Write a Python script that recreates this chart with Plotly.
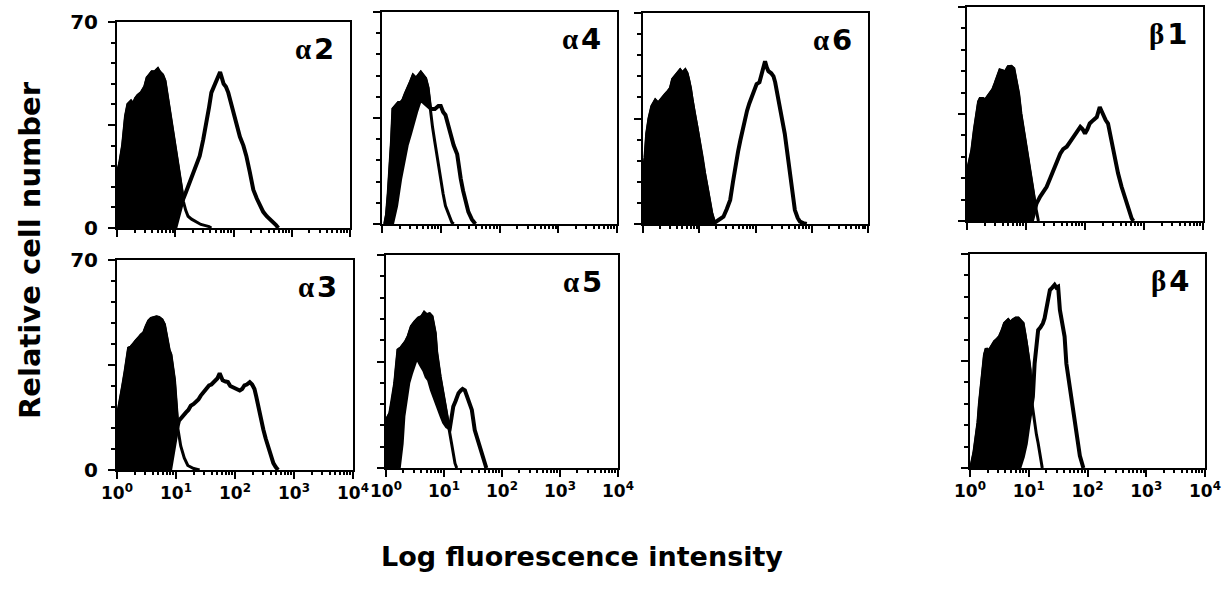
import plotly.graph_objects as go

W, H = 1223, 594

# ---------------- data (log10 fluorescence channel, relative cell number) ----------------
decade_values = [1, 10, 100, 1000, 10000]
decade_labels = ["10<sup>0</sup>", "10<sup>1</sup>", "10<sup>2</sup>", "10<sup>3</sup>", "10<sup>4</sup>"]
minor_multipliers = [2, 3, 4, 5, 6, 7, 8, 9]
y_tick_values = [0, 35, 70]
y_tick_labels = ["0", "", "70"]
y_minor_values = [7, 14, 21, 28, 42, 49, 56, 63]

panel_names = ["α2", "α4", "α6", "β1", "α3", "α5", "β4"]

# alpha 2
a2_ctrl_log = [0.00, 0.05, 0.10, 0.15, 0.19, 0.24, 0.28, 0.32, 0.36, 0.42, 0.48, 0.52, 0.56, 0.60, 0.65, 0.70, 0.73, 0.78, 0.82, 0.86, 0.90, 0.94, 0.98, 1.02, 1.06, 1.10, 1.14, 1.18, 1.22, 1.28, 1.36, 1.44, 1.52, 1.58, 1.62]
a2_ctrl_n = [18, 22, 28, 38, 42, 43, 42, 44, 45, 46, 48, 51, 52, 53, 53, 54, 53, 52, 50, 45, 40, 35, 29, 25, 20, 14, 9, 6, 4, 3, 2, 1.2, 0.8, 0.5, 0]
a2_stain_log = [1.00, 1.06, 1.12, 1.18, 1.24, 1.30, 1.36, 1.42, 1.48, 1.54, 1.58, 1.62, 1.66, 1.71, 1.74, 1.77, 1.80, 1.83, 1.87, 1.91, 1.95, 1.99, 2.05, 2.11, 2.17, 2.22, 2.28, 2.34, 2.40, 2.45, 2.51, 2.57, 2.63, 2.68, 2.73, 2.77]
a2_stain_n = [0, 5, 9, 12, 15, 18, 21, 24.5, 30, 36, 41, 46, 48, 50, 52, 53, 51, 49, 48, 46, 43, 40, 36, 31, 28, 24.5, 19, 13, 10, 7.6, 5.5, 4, 3, 2, 1, 0]

# alpha 4
a4_ctrl_log = [0.05, 0.08, 0.11, 0.14, 0.165, 0.19, 0.23, 0.28, 0.32, 0.36, 0.40, 0.45, 0.49, 0.53, 0.58, 0.62, 0.66, 0.70, 0.74, 0.78, 0.82, 0.86, 0.90, 0.93, 0.96, 1.00, 1.04, 1.08, 1.13, 1.19, 1.22]
a4_ctrl_n = [0, 3, 10, 18, 27, 38, 39, 40, 40, 41, 43, 45, 47, 49, 48, 49, 50, 49, 48, 45, 38, 32, 27, 23, 19, 14, 10, 6, 3.5, 0.5, 0]
a4_stain_log = [0.17, 0.24, 0.31, 0.37, 0.42, 0.48, 0.53, 0.58, 0.63, 0.67, 0.72, 0.78, 0.84, 0.90, 0.96, 1.00, 1.04, 1.08, 1.12, 1.16, 1.22, 1.28, 1.31, 1.34, 1.38, 1.42, 1.47, 1.53, 1.59]
a4_stain_n = [0, 6, 15, 21, 26, 30, 34, 37, 40, 41, 40, 39, 38, 38, 39, 39, 37, 36, 33, 30, 26, 23, 18, 15, 11, 8, 4, 1.5, 0]

# alpha 6
a6_ctrl_log = [0.00, 0.04, 0.07, 0.11, 0.16, 0.22, 0.27, 0.31, 0.36, 0.40, 0.45, 0.49, 0.53, 0.57, 0.62, 0.66, 0.70, 0.75, 0.78, 0.81, 0.84, 0.87, 0.91, 0.96, 1.00, 1.05, 1.09, 1.14, 1.18, 1.22, 1.26, 1.28]
a6_ctrl_n = [16, 22, 30, 35, 39, 41, 40, 41, 42, 43, 44, 45, 48, 49, 50, 51, 50, 51, 50, 48, 45, 41, 37, 32, 27, 22, 17, 12, 7, 3.5, 1, 0]
a6_stain_log = [1.24, 1.30, 1.36, 1.43, 1.49, 1.55, 1.60, 1.64, 1.69, 1.73, 1.79, 1.85, 1.89, 1.93, 1.98, 2.02, 2.07, 2.11, 2.14, 2.17, 2.20, 2.23, 2.28, 2.32, 2.35, 2.38, 2.43, 2.47, 2.52, 2.56, 2.60, 2.64, 2.67, 2.70, 2.75, 2.79, 2.85, 2.91]
a6_stain_n = [0, 0.8, 1.5, 2.4, 5, 8, 14, 19, 24, 27.7, 33, 37.6, 40, 42, 44, 46.4, 47, 49.7, 52, 54, 52, 50.7, 50, 49, 47, 44, 40, 35, 30, 24.4, 18, 12.3, 8, 4.6, 2, 0.8, 0.3, 0]

# beta 1
b1_ctrl_log = [0.00, 0.04, 0.085, 0.13, 0.17, 0.20, 0.225, 0.27, 0.31, 0.35, 0.39, 0.44, 0.48, 0.52, 0.56, 0.61, 0.65, 0.70, 0.75, 0.79, 0.83, 0.87, 0.91, 0.96, 1.00, 1.04, 1.07, 1.10, 1.15, 1.18, 1.21]
b1_ctrl_n = [15.6, 19, 23, 30, 36, 39, 40, 40, 39.5, 40.5, 41.7, 43, 45, 47, 49.3, 49, 48.7, 50.4, 50.5, 49.8, 46, 41.7, 35, 28.6, 24, 19.9, 15, 11.2, 5.8, 3, 0]
b1_stain_log = [1.10, 1.15, 1.18, 1.24, 1.30, 1.35, 1.41, 1.46, 1.52, 1.58, 1.63, 1.69, 1.75, 1.80, 1.86, 1.92, 1.96, 2.00, 2.04, 2.08, 2.14, 2.20, 2.25, 2.28, 2.31, 2.35, 2.39, 2.42, 2.45, 2.48, 2.51, 2.56, 2.62, 2.66, 2.70, 2.75, 2.79, 2.82]
b1_stain_n = [0, 3, 5.8, 8, 9.5, 11.2, 14, 16.6, 19, 22, 23.5, 24.3, 26, 27.5, 29, 30.8, 30, 28.6, 30, 31.9, 33, 34, 37.3, 36, 34, 33, 31.9, 29, 26.4, 23, 19.9, 15.6, 11.2, 8.5, 5.8, 3, 0.9, 0]

# alpha 3
a3_ctrl_log = [0.00, 0.03, 0.057, 0.10, 0.14, 0.17, 0.20, 0.24, 0.28, 0.32, 0.37, 0.41, 0.455, 0.50, 0.54, 0.58, 0.63, 0.67, 0.71, 0.76, 0.80, 0.83, 0.85, 0.88, 0.91, 0.94, 0.97, 1.00, 1.03, 1.08, 1.14, 1.20, 1.30, 1.40]
a3_ctrl_n = [17, 20, 23.7, 28, 32.7, 37, 40.6, 41, 41.8, 43, 44, 45, 45.7, 48, 49.7, 50.5, 50.8, 51, 50.8, 50, 48.5, 45, 42.9, 40, 38.4, 34, 30, 22, 14, 8, 4, 1.5, 0.5, 0]
a3_stain_log = [0.90, 0.94, 0.98, 1.02, 1.05, 1.11, 1.17, 1.21, 1.25, 1.30, 1.34, 1.38, 1.42, 1.47, 1.51, 1.56, 1.60, 1.65, 1.70, 1.74, 1.77, 1.79, 1.84, 1.88, 1.92, 1.96, 2.02, 2.08, 2.12, 2.16, 2.20, 2.25, 2.29, 2.33, 2.36, 2.39, 2.44, 2.48, 2.52, 2.56, 2.60, 2.65, 2.69, 2.73]
a3_stain_n = [0, 5, 10, 14, 16.4, 18, 19.2, 20, 21.4, 22, 22.6, 23.5, 24.8, 26, 27, 28.2, 28.5, 29.3, 30.5, 32.2, 31, 29.9, 29.5, 29.3, 28, 27.6, 27, 26.5, 27, 28.2, 28.5, 29.3, 28.5, 27, 24.5, 21.4, 17, 13.5, 10.5, 7.9, 5, 2.3, 1, 0]

# alpha 5
a5_ctrl_log = [0.00, 0.01, 0.07, 0.11, 0.155, 0.18, 0.21, 0.26, 0.30, 0.34, 0.385, 0.44, 0.50, 0.56, 0.62, 0.66, 0.70, 0.75, 0.79, 0.82, 0.845, 0.87, 0.90, 0.93, 0.96, 0.99, 1.02, 1.07, 1.13, 1.19, 1.22]
a5_ctrl_n = [12, 15.8, 18, 22, 27.9, 33, 38.8, 39.5, 40.5, 41.5, 43.2, 46.5, 48, 49.2, 49.8, 51, 50.3, 50.6, 49.8, 47, 44.3, 38, 33.3, 30, 26.7, 23, 20.2, 14.7, 8.1, 1.5, 0]
a5_stain_log = [0.22, 0.27, 0.30, 0.34, 0.385, 0.43, 0.47, 0.50, 0.53, 0.56, 0.60, 0.66, 0.70, 0.74, 0.79, 0.82, 0.87, 0.92, 0.96, 1.00, 1.05, 1.10, 1.13, 1.16, 1.20, 1.25, 1.29, 1.32, 1.36, 1.39, 1.44, 1.48, 1.53, 1.57, 1.62, 1.68, 1.73]
a5_stain_n = [0, 8, 17, 23, 28, 31, 34, 35, 36, 35.5, 34, 32, 30, 29, 25.7, 24, 21.3, 19, 16.9, 15, 13.6, 13, 16, 20.2, 22, 24.6, 25.5, 26, 25.5, 24, 21.5, 19.1, 12.5, 10, 7, 2.6, 0]

# beta 4
b4_ctrl_log = [0.00, 0.02, 0.07, 0.11, 0.14, 0.165, 0.19, 0.22, 0.25, 0.28, 0.31, 0.335, 0.38, 0.42, 0.46, 0.505, 0.55, 0.59, 0.65, 0.69, 0.73, 0.78, 0.82, 0.86, 0.90, 0.93, 0.96, 1.00, 1.02, 1.04, 1.07, 1.10, 1.13, 1.16, 1.21, 1.23]
b4_ctrl_n = [0, 0.4, 5, 10.2, 15, 21.2, 26, 32, 37, 39.1, 38, 38.6, 40, 41.3, 42, 43, 45, 47.3, 48.4, 47.5, 48.4, 49, 49, 48, 47.3, 44, 40.8, 35, 32, 23.3, 19, 14.6, 11, 8.1, 1.5, 0]
b4_stain_log = [0.82, 0.845, 0.90, 0.95, 0.99, 1.03, 1.07, 1.10, 1.13, 1.16, 1.20, 1.24, 1.27, 1.30, 1.33, 1.36, 1.40, 1.44, 1.47, 1.50, 1.53, 1.57, 1.61, 1.64, 1.67, 1.70, 1.75, 1.78, 1.81, 1.87, 1.93]
b4_stain_n = [0, 0.4, 3.7, 8, 13.5, 18, 23.3, 34.2, 40, 45.1, 46, 47.3, 49, 51.7, 54, 58.2, 59, 59.9, 59, 59.3, 51.7, 47, 43, 34.2, 30, 26.6, 19, 15, 10.2, 4, 0]

panel_data = {
    "α2": (a2_ctrl_log, a2_ctrl_n, a2_stain_log, a2_stain_n),
    "α4": (a4_ctrl_log, a4_ctrl_n, a4_stain_log, a4_stain_n),
    "α6": (a6_ctrl_log, a6_ctrl_n, a6_stain_log, a6_stain_n),
    "β1": (b1_ctrl_log, b1_ctrl_n, b1_stain_log, b1_stain_n),
    "α3": (a3_ctrl_log, a3_ctrl_n, a3_stain_log, a3_stain_n),
    "α5": (a5_ctrl_log, a5_ctrl_n, a5_stain_log, a5_stain_n),
    "β4": (b4_ctrl_log, b4_ctrl_n, b4_stain_log, b4_stain_n),
}

# ---------------- layout (pixel boxes: left, right, top, bottom) ----------------
panel_box = {
    "α2": (117, 350, 22, 228),
    "α4": (382, 617, 12, 224),
    "α6": (643, 868, 13, 224),
    "β1": (967, 1203, 7, 221),
    "α3": (117, 353, 260, 470),
    "α5": (386, 618, 255, 468),
    "β4": (970, 1205, 254, 468),
}
left_panels = {"α2", "α3"}
bottom_panels = {"α3", "α5", "β4"}

FONT = "DejaVu Sans"
minor_x = [d * m for d in decade_values[:-1] for m in minor_multipliers]

fig = go.Figure()
layout_axes = {}
annotations = []

for i, name in enumerate(panel_names):
    idx = "" if i == 0 else str(i + 1)
    xa, ya = "x" + idx, "y" + idx
    c_log, c_n, s_log, s_n = panel_data[name]
    cx = [10 ** v for v in c_log]
    sx = [10 ** v for v in s_log]
    # control: black filled
    fig.add_trace(go.Scatter(x=cx, y=c_n, mode="lines", fill="tozeroy", fillcolor="black",
                             line=dict(color="black", width=3.5), xaxis=xa, yaxis=ya, hoverinfo="skip"))
    # stained: white interior over control
    fig.add_trace(go.Scatter(x=sx, y=s_n, mode="lines", fill="tozeroy", fillcolor="white",
                             line=dict(color="black", width=0), xaxis=xa, yaxis=ya, hoverinfo="skip"))
    # control outline on top
    fig.add_trace(go.Scatter(x=cx, y=c_n, mode="lines", line=dict(color="black", width=3),
                             xaxis=xa, yaxis=ya, hoverinfo="skip"))
    # stained outline
    fig.add_trace(go.Scatter(x=sx, y=s_n, mode="lines", line=dict(color="black", width=4),
                             xaxis=xa, yaxis=ya, hoverinfo="skip"))

    l, r, t, b = panel_box[name]
    xkey = "xaxis" + idx
    ykey = "yaxis" + idx
    layout_axes[xkey] = dict(
        domain=[l / W, r / W], anchor=ya, type="log", range=[0, 4],
        automargin=False,
        showline=True, mirror=True, linecolor="black", linewidth=2,
        showgrid=False, zeroline=False,
        tickvals=decade_values, ticktext=decade_labels,
        showticklabels=name in bottom_panels,
        ticks="outside", ticklen=7, tickwidth=2, tickcolor="black",
        minor=dict(tickvals=minor_x, ticks="outside", ticklen=3, tickwidth=1.5, tickcolor="black"),
        tickfont=dict(family=FONT, size=17, color="black", weight="bold"),
        fixedrange=True,
    )
    layout_axes[ykey] = dict(
        domain=[1 - b / H, 1 - t / H], anchor=xa, range=[0, 70],
        automargin=False,
        showline=True, mirror=True, linecolor="black", linewidth=2,
        showgrid=False, zeroline=False,
        tickvals=y_tick_values, ticktext=y_tick_labels,
        showticklabels=name in left_panels,
        ticks="outside", ticklen=7, tickwidth=2, tickcolor="black",
        minor=dict(tickvals=y_minor_values, ticks="outside", ticklen=4, tickwidth=1.5, tickcolor="black"),
        tickfont=dict(family=FONT, size=20, color="black", weight="bold"),
        ticklabelstandoff=6,
        fixedrange=True,
    )
    greek, num = name[0], name[1:]
    annotations.append(dict(
        text="<span style='font-family:Liberation Serif'>" + greek + "</span>\u200a" + num,
        xref=xa + " domain", yref=ya + " domain", x=1, y=1,
        xanchor="right", yanchor="top", xshift=-14, yshift=-8, showarrow=False,
        font=dict(family=FONT, size=29, color="black", weight="bold"),
    ))

annotations.append(dict(
    text="Relative cell number", xref="paper", yref="paper",
    x=30 / W, y=1 - 250 / H, textangle=-90, showarrow=False,
    xanchor="center", yanchor="middle",
    font=dict(family=FONT, size=29, color="black", weight="bold"),
))
annotations.append(dict(
    text="Log fluorescence intensity", xref="paper", yref="paper",
    x=582 / W, y=1 - 556 / H, showarrow=False,
    xanchor="center", yanchor="middle",
    font=dict(family=FONT, size=27, color="black", weight="bold"),
))

fig.update_layout(
    width=W, height=H, margin=dict(l=0, r=0, t=0, b=0),
    paper_bgcolor="white", plot_bgcolor="white",
    showlegend=False, annotations=annotations, **layout_axes,
)

fig.write_html("out.html", config={"displayModeBar": False},
               post_script="document.body.style.margin='0';document.body.style.overflow='hidden';")
